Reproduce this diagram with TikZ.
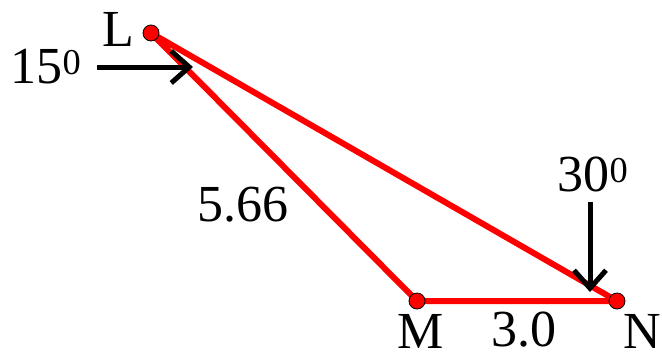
\documentclass[tikz,border=0pt]{standalone}
\usepackage{fontspec}
\setmainfont{Liberation Serif}
\usetikzlibrary{positioning,arrows.meta}

\begin{document}
\begin{tikzpicture}[x=1pt, y=-1pt, font=\fontsize{52}{54}\selectfont,
  pt/.style={circle, draw=black, line width=0.8pt, fill=red, inner sep=0pt, minimum size=16pt},
  side/.style={draw=red, line width=6pt, line join=round},
  force/.style={draw=black, line width=5pt, -{Straight Barb[length=18pt, width=32pt, line width=5pt]}},
  lbl/.style={inner sep=0pt}]
\useasboundingbox (0,0) rectangle (662,360);
\node[lbl] (tL) at (118,29) {L};
\node[lbl] (tM) at (421,331) {M};
\node[lbl] (tN) at (642,331) {N};
\node[lbl] (a15) at (46,67) {15\textsuperscript{0}};
\node[lbl] (a30) at (593,174) {30\textsuperscript{0}};
\node[lbl] (lm) at (243,205) {5.66};
\node[lbl] (mn) at (524,330) {3.0};
\coordinate (f1) at (97,67);
\coordinate (f1tip) at (193,67);
\coordinate (f2) at (590,202);
\coordinate (f2tip) at (590,292);
\draw[side] (151,33) coordinate (L) -- (417,301) coordinate (M) -- (617,301) coordinate (N) -- cycle;
\node[pt] at (L) {}; \node[pt] at (M) {}; \node[pt] at (N) {};
\draw[force] (f1) -- (f1tip);
\draw[force] (f2) -- (f2tip);
\end{tikzpicture}
\end{document}
